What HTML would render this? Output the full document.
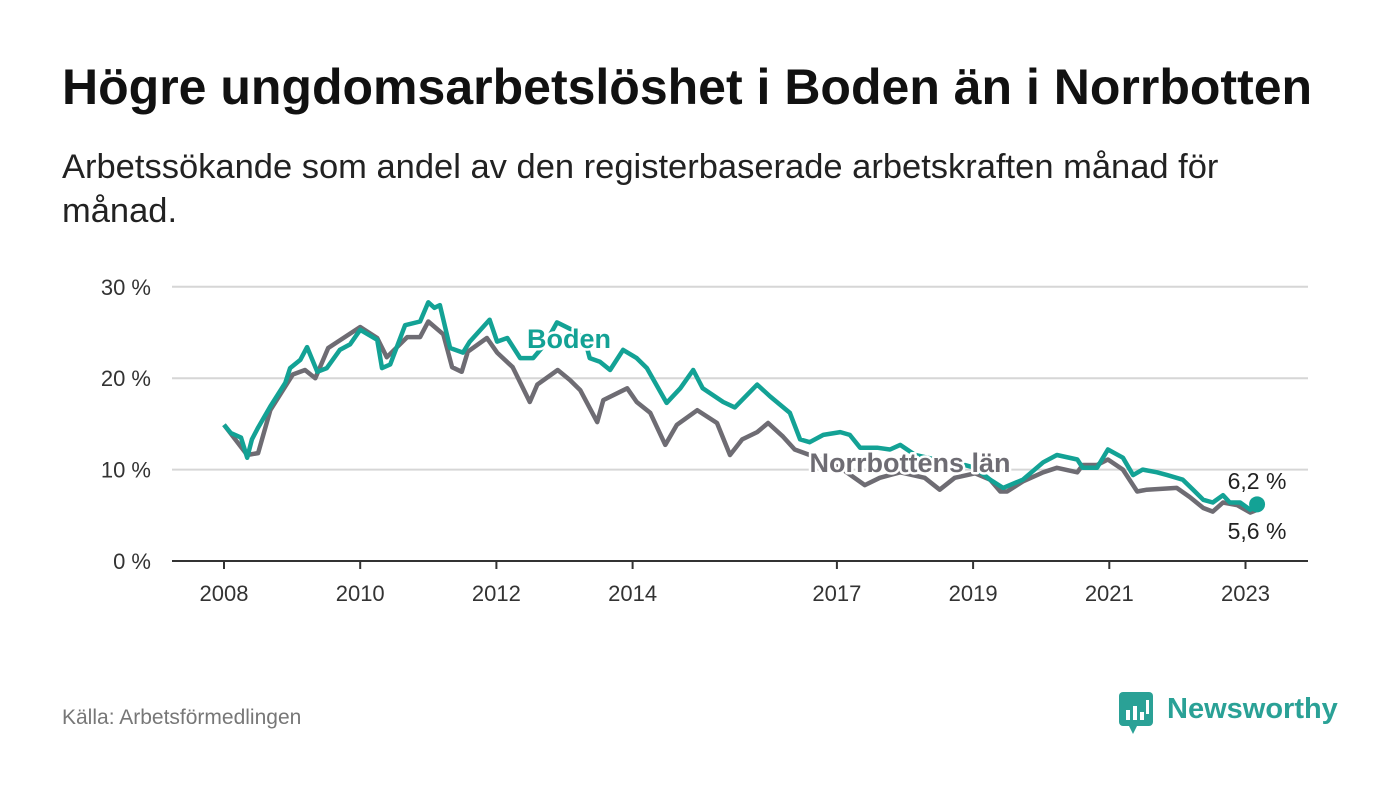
<!DOCTYPE html>
<html><head><meta charset="utf-8">
<style>
body{margin:0;width:1400px;height:794px;background:#fff;font-family:"Liberation Sans",sans-serif;overflow:hidden;position:relative}
#title{position:absolute;left:62px;top:58px;font-size:50px;font-weight:bold;color:#111;white-space:nowrap}
#sub{position:absolute;left:62px;top:145px;font-size:34.5px;color:#222;line-height:44px;white-space:nowrap}
#src{position:absolute;left:62px;top:706px;font-size:21px;color:#777}
#logo{position:absolute;left:1119px;top:690px}
</style></head><body>
<div id="title">Högre ungdomsarbetslöshet i Boden än i Norrbotten</div>
<div id="sub">Arbetssökande som andel av den registerbaserade arbetskraften månad för<br>månad.</div>
<svg id="chart" width="1400" height="794" style="position:absolute;left:0;top:0"></svg>
<div id="src">Källa: Arbetsförmedlingen</div>
<div id="logo">
<svg width="230" height="48"><rect x="0" y="2" width="34" height="34" rx="4" fill="#2aa196"/><path d="M10 36 L14 44 L18 36Z" fill="#2aa196"/><rect x="7" y="20" width="4" height="10" fill="#fff"/><rect x="14" y="16" width="4" height="14" fill="#fff"/><rect x="21" y="22" width="4" height="8" fill="#fff"/><rect x="27" y="10" width="3" height="14" fill="#fff"/><text x="48" y="28" font-size="29" font-weight="bold" fill="#2aa196" font-family="Liberation Sans, sans-serif">Newsworthy</text></svg>
</div>
<script>
const bodenDates=[2008.0,2008.1,2008.25,2008.34,2008.41,2008.5,2008.68,2008.9,2008.97,2009.12,2009.22,2009.37,2009.51,2009.7,2009.85,2010.0,2010.25,2010.32,2010.44,2010.66,2010.88,2011.0,2011.09,2011.17,2011.32,2011.51,2011.61,2011.9,2012.01,2012.16,2012.35,2012.54,2012.71,2012.89,2013.11,2013.3,2013.37,2013.52,2013.67,2013.86,2014.06,2014.21,2014.5,2014.7,2014.89,2015.03,2015.33,2015.5,2015.83,2016.02,2016.31,2016.46,2016.6,2016.8,2017.05,2017.19,2017.34,2017.59,2017.78,2017.93,2018.15,2018.44,2018.73,2019.03,2019.25,2019.44,2019.73,2020.03,2020.23,2020.53,2020.61,2020.82,2020.98,2021.2,2021.35,2021.49,2021.7,2021.85,2022.08,2022.23,2022.38,2022.52,2022.67,2022.77,2022.92,2023.07,2023.17];
const bodenValues=[14.9,14.0,13.5,11.3,13.3,14.6,16.9,19.5,21.1,22.0,23.4,20.7,21.1,23.1,23.7,25.3,24.2,21.1,21.5,25.8,26.2,28.3,27.7,28.0,23.3,22.8,24.0,26.4,24.0,24.4,22.2,22.2,23.7,26.1,25.3,24.2,22.2,21.8,20.9,23.1,22.2,21.1,17.3,18.9,20.9,18.9,17.4,16.8,19.3,18.0,16.2,13.3,13.0,13.8,14.1,13.8,12.4,12.4,12.2,12.7,11.6,11.1,10.8,10.2,8.9,8.0,8.9,10.8,11.6,11.1,10.2,10.2,12.2,11.3,9.4,10.0,9.7,9.4,8.9,7.8,6.7,6.4,7.2,6.4,6.4,5.6,6.2];
const norrDates=[2008.0,2008.34,2008.5,2008.68,2009.01,2009.19,2009.34,2009.53,2010.0,2010.25,2010.39,2010.69,2010.88,2011.0,2011.22,2011.35,2011.49,2011.58,2011.86,2012.01,2012.24,2012.49,2012.6,2012.9,2013.08,2013.23,2013.48,2013.57,2013.92,2014.06,2014.26,2014.48,2014.65,2014.95,2015.24,2015.43,2015.61,2015.83,2015.99,2016.21,2016.38,2016.6,2017.05,2017.41,2017.63,2017.93,2018.29,2018.51,2018.73,2019.03,2019.25,2019.4,2019.5,2019.73,2020.03,2020.23,2020.53,2020.61,2020.82,2020.98,2021.2,2021.41,2021.55,2021.99,2022.18,2022.38,2022.52,2022.67,2022.88,2023.07,2023.17];
const norrValues=[14.9,11.6,11.8,16.5,20.4,20.9,20.0,23.3,25.6,24.4,22.3,24.5,24.5,26.2,24.8,21.2,20.7,22.9,24.4,22.8,21.2,17.4,19.3,20.9,19.8,18.7,15.2,17.6,18.9,17.4,16.2,12.7,14.9,16.5,15.1,11.6,13.3,14.1,15.1,13.6,12.2,11.6,10.2,8.3,9.1,9.7,9.1,7.8,9.1,9.6,8.9,7.6,7.6,8.7,9.7,10.2,9.7,10.5,10.5,11.1,10.0,7.6,7.8,8.0,7.0,5.8,5.4,6.4,6.1,5.3,5.6];
const xTicks=[2008,2010,2012,2014,2017,2019,2021,2023];
const yTicks=[0,10,20,30];
const yTickLabels=["0 %","10 %","20 %","30 %"];

const NS="http://www.w3.org/2000/svg";
const svg=document.getElementById('chart');
const x=y=>224+(y-2008)*68.1;
const yv=v=>561-v*9.14;
function mk(t,a,p){const e=document.createElementNS(NS,t);for(const k in a)e.setAttribute(k,a[k]);(p||svg).appendChild(e);return e;}
yTicks.forEach((t,i)=>{
  if(t>0){const g=mk('line',{x1:172,x2:1308,y1:yv(t),y2:yv(t),stroke:'#d6d6d6','stroke-width':2});
  
  }
  const l=mk('text',{x:151,y:yv(t)+8,'text-anchor':'end','font-size':22,fill:'#333'});
  l.textContent=yTickLabels[i];
  
  
});
const ax=mk('line',{x1:172,x2:1308,y1:561,y2:561,stroke:'#333','stroke-width':2});


xTicks.forEach(t=>{
  mk('line',{x1:x(t),x2:x(t),y1:561,y2:569,stroke:'#333','stroke-width':2});
  const l=mk('text',{x:x(t),y:601,'text-anchor':'middle','font-size':22,fill:'#333'});
  l.textContent=t;
  
  
});
function line(d,v,c,name){
  const p=mk('path',{d:d.map((t,i)=>(i?'L':'M')+x(t).toFixed(1)+' '+yv(v[i]).toFixed(1)).join(''),fill:'none',stroke:c,'stroke-width':4.5,'stroke-linejoin':'round'});
  
  
}
line(norrDates,norrValues,'#6e6c73','norrbotten-line');
line(bodenDates,bodenValues,'#13a295','boden-line');
const dot=mk('circle',{cx:x(bodenDates[bodenDates.length-1]),cy:yv(bodenValues[bodenValues.length-1]),r:8,fill:'#13a295'});


function lab(txt,xx,yy,c,fs,w,name,anchor){
  const t=mk('text',{x:xx,y:yy,'text-anchor':anchor||'middle','font-size':fs,'font-weight':w,fill:c,stroke:'#fff','stroke-width':5,'paint-order':'stroke','stroke-linejoin':'round'});
  t.textContent=txt;
  
  
}
lab('Boden',569,348,'#13a295',27,'bold','boden-label');
lab('Norrbottens län',910,472,'#6e6c73',27,'bold','norrbotten-label');
lab('6,2 %',1257,489,'#222',23,'normal','boden-end-value');
lab('5,6 %',1257,539,'#222',23,'normal','norrbotten-end-value');
</script>
</body></html>
